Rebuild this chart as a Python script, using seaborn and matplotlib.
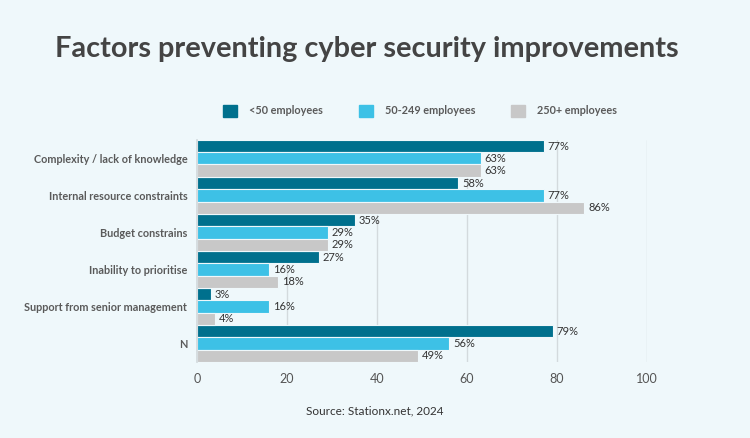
import pandas as pd
import numpy as np
import matplotlib.pyplot as plt
import matplotlib.patches as mpatches
import seaborn as sns

# ---- data ----
factors = ['Complexity / lack of knowledge', 'Internal resource constraints',
           'Budget constrains', 'Inability to prioritise',
           'Support from senior management', 'N']
groups = ['<50 employees', '50-249 employees', '250+ employees']
small  = [77, 58, 35, 27, 3, 79]
medium = [63, 77, 29, 16, 16, 56]
large  = [63, 86, 29, 18, 4, 49]
x_ticks = [0, 20, 40, 60, 80, 100]

colors = ['#00708d', '#3dc1e6', '#c8c8c8']
BG = '#eff8fb'
TXT = '#444444'

df = pd.DataFrame({
    'factor': factors * 3,
    'group': [g for g in groups for _ in factors],
    'value': small + medium + large,
})

sns.set_theme(style='white')
plt.rcParams['font.family'] = ['Lato', 'DejaVu Sans']

fig = plt.figure(figsize=(7.5, 4.38), dpi=100, facecolor=BG)
ax = fig.add_axes([0.2627, 0.1735, 0.6, 0.507])
ax.set_facecolor(BG)

sns.barplot(data=df, y='factor', x='value', hue='group', order=factors,
            hue_order=groups, palette=colors, saturation=1, width=0.98,
            orient='h', edgecolor=BG, linewidth=0.8, ax=ax)

for cont in ax.containers:
    ax.bar_label(cont, fmt='%d%%', padding=3, fontsize=8, color='#333333')

ax.set_xlim(0, 100)
ax.set_xticks(x_ticks)
ax.set_ylim(len(factors) - 0.5, -0.5)
ax.set_xlabel('')
ax.set_ylabel('')
ax.xaxis.grid(True, color='#d3dadd', linewidth=1)
ax.set_axisbelow(True)
for s in ['top', 'right', 'bottom']:
    ax.spines[s].set_visible(False)
ax.spines['left'].set_color('#d3dadd')
ax.tick_params(axis='both', length=0, labelsize=7.8, colors='#5a5a5a')
ax.tick_params(axis='y', pad=7)
ax.tick_params(axis='x', pad=8, labelsize=9, colors='#555555')
for lbl in ax.get_yticklabels():
    lbl.set_fontweight('bold')
ax.get_legend().remove()

handles = [mpatches.Patch(color=c, label=g) for c, g in zip(colors, groups)]
leg = fig.legend(handles=handles, loc='center', bbox_to_anchor=(0.56, 0.747), ncol=3,
                 frameon=False, fontsize=7.8, handlelength=1.3, handleheight=1.3,
                 columnspacing=3.3, handletextpad=1.1, labelcolor='#5a5a5a')
for t in leg.get_texts():
    t.set_fontweight('bold')

fig.text(0.073, 0.889, 'Factors preventing cyber security improvements',
         fontsize=20.8, fontweight='bold', color=TXT, va='center', ha='left')
fig.text(0.5, 0.062, 'Source: Stationx.net, 2024', fontsize=8.5,
         color='#333333', ha='center', va='center')

fig.savefig('out.png', dpi=100, facecolor=BG)
